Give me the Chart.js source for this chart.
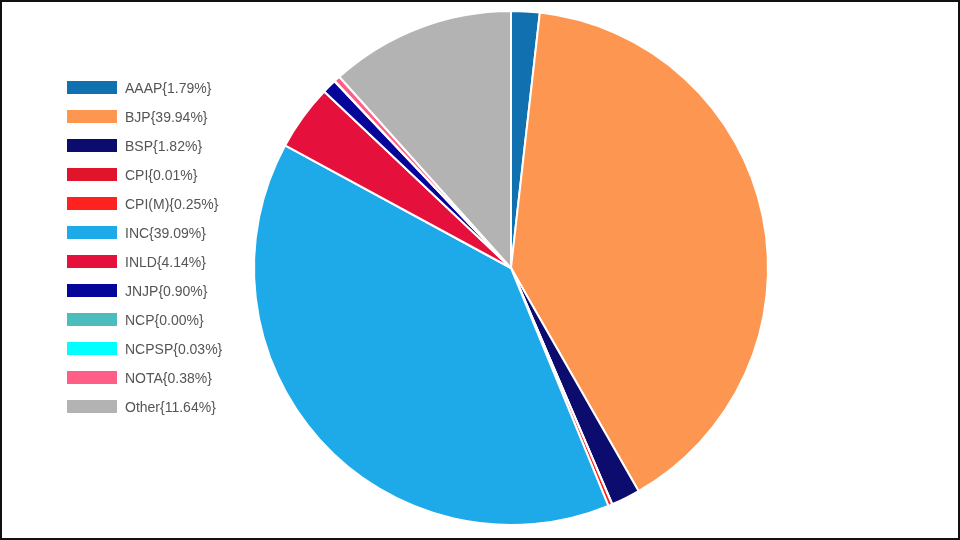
<!DOCTYPE html><html><head><script src="https://cdn.jsdelivr.net/npm/chart.js@4"></script>
<style>body{margin:0;background:#fff}#w{position:relative;width:956px;height:536px;border:2px solid #111;}
#lg{position:absolute;left:65px;top:78px;font:14px "Liberation Sans",Arial,sans-serif;color:#555}
.r{height:29px;display:flex;align-items:flex-start}.b{width:50px;height:13px;margin-right:8px;margin-top:1px}</style></head><body>
<div id="w"><canvas id="c" width="956" height="536"></canvas><div id="lg"></div></div>
<script>
const labels=["AAAP","BJP","BSP","CPI","CPI(M)","INC","INLD","JNJP","NCP","NCPSP","NOTA","Other"];
const values=[1.79,39.94,1.82,0.01,0.25,39.09,4.14,0.90,0.00,0.03,0.38,11.64];
const colors=["#1070b0","#fd9650","#0c0c6e","#e0142a","#ff2020","#1eaae8","#e5113c","#05059a","#4cbcbc","#00ffff","#ff5e86","#b3b3b3"];
const lg=document.getElementById('lg');
labels.forEach((l,i)=>{const d=document.createElement('div');d.className='r';d.innerHTML=`<div class="b" style="background:${colors[i]}"></div><span>${l}{${values[i].toFixed(2)}%}</span>`;lg.appendChild(d);});
new Chart(document.getElementById('c'),{type:'pie',data:{labels,datasets:[{data:values,backgroundColor:colors,borderColor:'#fff',borderWidth:2}]},
options:{responsive:false,animation:false,layout:{padding:{left:62,top:8,bottom:12}},plugins:{legend:{display:false},tooltip:{enabled:false}}}});
</script></body></html>
